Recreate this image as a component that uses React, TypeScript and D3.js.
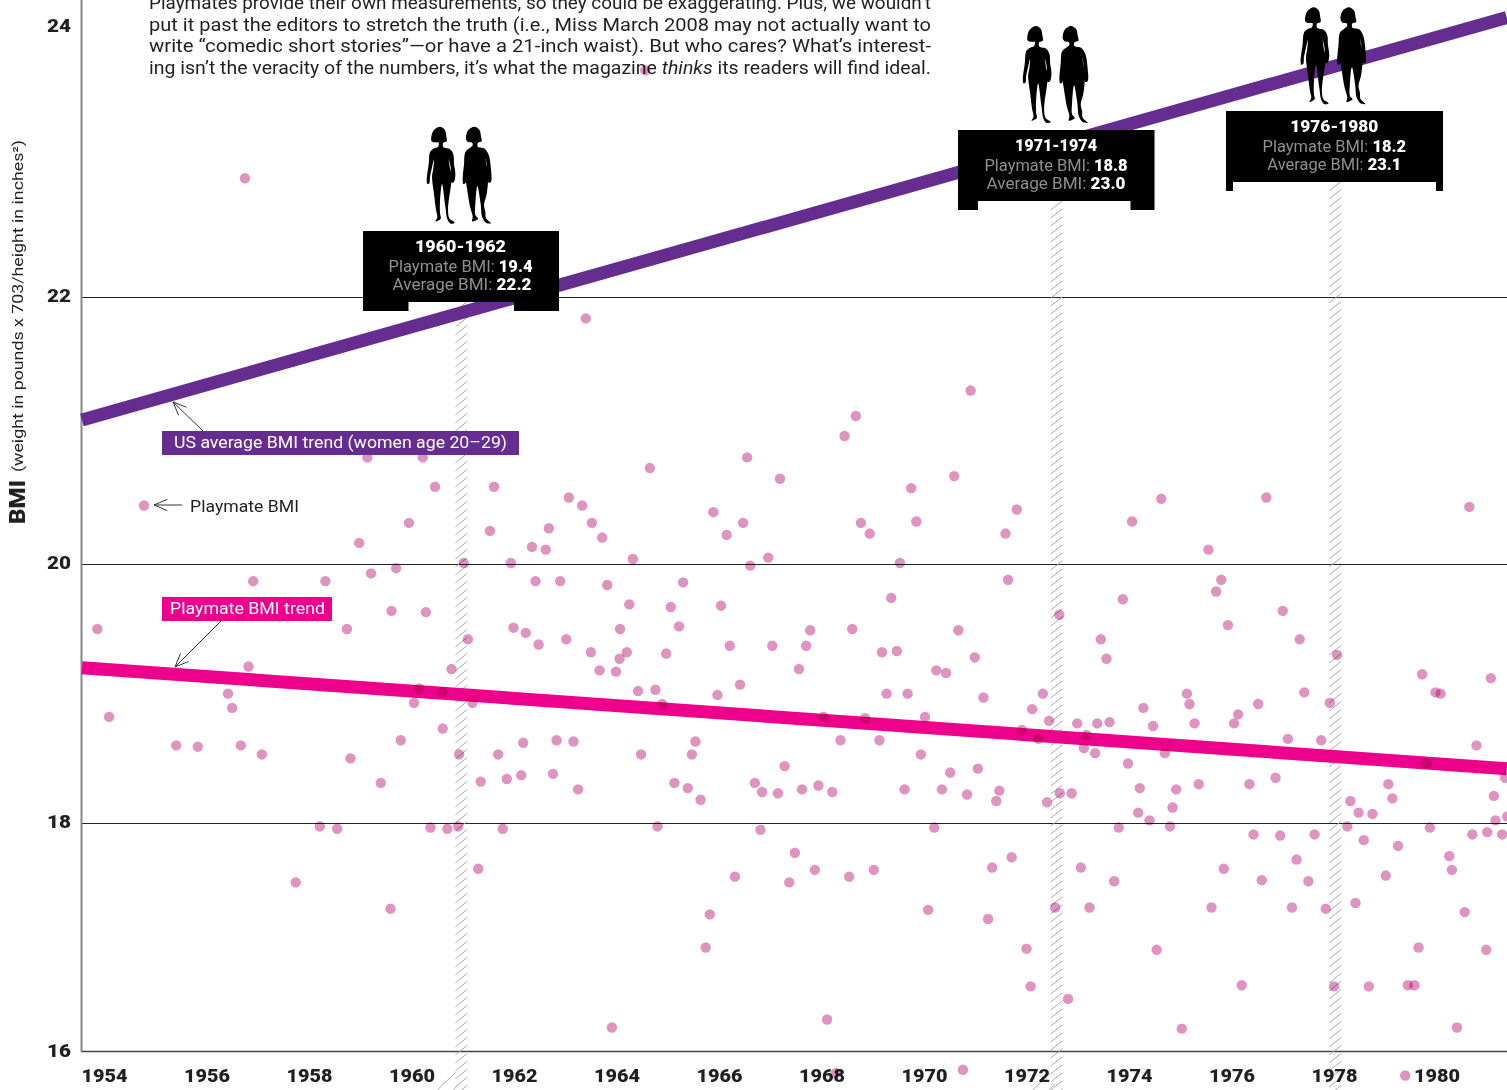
import React, { useEffect, useRef } from 'react';
import * as d3 from 'd3';

const width = 1507;
const height = 1090;

// ticks
const xTickYears = d3.range(1954, 1981, 2);
const yTickValues = [16, 18, 20, 22, 24];
const gridValues = [18, 20, 22];

// year, BMI of every playmate
const playmates: [number, number][] = [
  [1954.78, 20.44], [1959.14, 20.8], [1960.22, 20.8], [1960.46, 20.58], [1961.61, 20.58], [1959.95, 20.31],
  [1961.53, 20.25], [1962.68, 20.27], [1962.35, 20.13], [1962.62, 20.11], [1958.98, 20.16], [1961.02, 20.01],
  [1961.94, 20.01], [1959.21, 19.93], [1959.7, 19.97], [1956.91, 19.87], [1958.32, 19.87], [1962.42, 19.87],
  [1962.9, 19.87], [1959.61, 19.64], [1960.28, 19.63], [1953.87, 19.5], [1958.74, 19.5], [1961.99, 19.51],
  [1962.23, 19.47], [1962.48, 19.38], [1961.1, 19.42], [1960.78, 19.19], [1956.82, 19.21], [1956.42, 19.0],
  [1956.5, 18.89], [1960.15, 19.04], [1960.6, 19.01], [1960.05, 18.93], [1961.19, 18.93], [1954.1, 18.82],
  [1955.41, 18.6], [1955.83, 18.59], [1956.67, 18.6], [1957.08, 18.53], [1958.81, 18.5], [1959.4, 18.31],
  [1959.79, 18.64], [1960.61, 18.73], [1960.93, 18.53], [1961.35, 18.32], [1961.69, 18.53], [1961.86, 18.34],
  [1962.14, 18.37], [1962.18, 18.62], [1962.76, 18.38], [1962.83, 18.64], [1958.21, 17.97], [1958.55, 17.95],
  [1960.37, 17.96], [1960.7, 17.95], [1960.91, 17.97], [1961.78, 17.95], [1961.3, 17.6], [1957.74, 17.48],
  [1959.59, 17.25], [1956.75, 22.88], [1964.56, 23.68], [1963.4, 21.84],
  [1970.91, 21.3], [1968.67, 21.11], [1968.45, 20.96], [1966.55, 20.8], [1964.65, 20.72], [1967.19, 20.64],
  [1970.59, 20.66], [1969.75, 20.57], [1963.07, 20.5], [1963.33, 20.44], [1963.52, 20.31], [1963.72, 20.2],
  [1965.89, 20.39], [1966.47, 20.31], [1966.15, 20.22], [1968.77, 20.31], [1968.94, 20.23], [1969.85, 20.32],
  [1971.81, 20.41], [1971.59, 20.23], [1964.32, 20.04], [1966.96, 20.05], [1966.61, 19.99], [1969.53, 20.01],
  [1963.82, 19.84], [1965.3, 19.86], [1964.25, 19.69], [1965.06, 19.67], [1966.04, 19.68], [1969.36, 19.74],
  [1971.64, 19.88], [1964.07, 19.5], [1965.22, 19.52], [1967.78, 19.49], [1968.6, 19.5], [1970.67, 19.49],
  [1963.02, 19.42], [1963.5, 19.32], [1964.2, 19.32], [1964.06, 19.27], [1964.97, 19.31], [1966.21, 19.37],
  [1967.04, 19.37], [1967.7, 19.37], [1967.56, 19.19], [1969.18, 19.32], [1969.47, 19.33], [1970.24, 19.18],
  [1970.43, 19.16], [1970.99, 19.28], [1963.67, 19.18], [1963.99, 19.17], [1964.42, 19.02], [1964.76, 19.03],
  [1964.89, 18.92], [1965.97, 18.99], [1966.41, 19.07], [1969.27, 19.0], [1969.68, 19.0], [1971.16, 18.97],
  [1972.11, 18.88], [1963.16, 18.63], [1963.25, 18.26], [1964.48, 18.53], [1965.54, 18.63], [1965.47, 18.53],
  [1965.13, 18.31], [1965.39, 18.27], [1965.64, 18.18], [1964.8, 17.97], [1966.7, 18.31], [1966.84, 18.24],
  [1967.15, 18.23], [1967.28, 18.44], [1967.62, 18.26], [1967.94, 18.29], [1968.21, 18.24], [1966.81, 17.94],
  [1968.04, 18.82], [1968.85, 18.81], [1970.02, 18.82], [1968.37, 18.64], [1969.13, 18.64], [1969.94, 18.53],
  [1971.91, 18.72], [1969.62, 18.26], [1970.35, 18.26], [1970.51, 18.39], [1970.84, 18.22], [1971.05, 18.42],
  [1971.47, 18.25], [1971.41, 18.17], [1970.2, 17.96], [1967.48, 17.74], [1967.87, 17.59], [1968.54, 17.53],
  [1969.02, 17.59], [1967.37, 17.48], [1966.31, 17.53], [1965.82, 17.2], [1965.74, 16.91], [1970.08, 17.24],
  [1971.25, 17.16], [1971.33, 17.61], [1971.71, 17.7], [1972.0, 16.9], [1972.08, 16.57], [1963.91, 16.21],
  [1968.11, 16.28], [1968.28, 15.81], [1970.76, 15.84],
  [1974.63, 20.49], [1974.06, 20.32], [1976.68, 20.5], [1980.64, 20.43], [1975.55, 20.11], [1975.8, 19.88],
  [1975.7, 19.79], [1973.88, 19.73], [1975.93, 19.53], [1972.64, 19.61], [1977.0, 19.64], [1977.33, 19.42],
  [1973.45, 19.42], [1973.56, 19.27], [1978.06, 19.3], [1979.72, 19.15], [1981.06, 19.12], [1979.98, 19.01],
  [1980.08, 19.0], [1972.32, 19.0], [1972.44, 18.79], [1972.99, 18.77], [1973.38, 18.77], [1973.62, 18.78],
  [1974.28, 18.89], [1974.47, 18.75], [1975.13, 19.0], [1975.18, 18.92], [1975.28, 18.77], [1976.13, 18.84],
  [1976.05, 18.77], [1976.52, 18.92], [1977.42, 19.01], [1977.92, 18.93], [1977.1, 18.65], [1977.75, 18.64],
  [1980.78, 18.6], [1972.23, 18.65], [1973.17, 18.68], [1973.12, 18.58], [1973.34, 18.54], [1973.98, 18.46],
  [1974.7, 18.54], [1979.81, 18.46], [1974.21, 18.27], [1974.92, 18.26], [1975.36, 18.3], [1976.35, 18.3],
  [1976.86, 18.35], [1979.06, 18.3], [1979.14, 18.19], [1981.12, 18.21], [1981.34, 18.35], [1972.65, 18.23],
  [1972.88, 18.23], [1972.4, 18.16], [1978.32, 18.17], [1978.48, 18.08], [1978.75, 18.07], [1974.85, 18.12],
  [1974.18, 18.08], [1974.4, 18.02], [1981.15, 18.02], [1981.38, 18.05], [1973.8, 17.96], [1974.8, 17.97],
  [1978.26, 17.97], [1979.87, 17.96], [1976.43, 17.9], [1976.95, 17.89], [1977.62, 17.9], [1978.58, 17.85],
  [1979.25, 17.8], [1980.7, 17.9], [1980.99, 17.92], [1981.28, 17.9], [1977.27, 17.68], [1980.25, 17.71],
  [1980.3, 17.59], [1973.06, 17.61], [1975.85, 17.6], [1976.59, 17.5], [1977.5, 17.49], [1973.71, 17.49],
  [1979.01, 17.54], [1972.56, 17.26], [1973.23, 17.26], [1975.61, 17.26], [1977.18, 17.26], [1977.84, 17.25],
  [1978.42, 17.3], [1980.55, 17.22], [1979.65, 16.91], [1980.97, 16.89], [1974.54, 16.89], [1976.2, 16.58],
  [1978.0, 16.57], [1978.68, 16.57], [1979.44, 16.58], [1979.57, 16.58], [1972.81, 16.46], [1975.03, 16.2],
  [1980.4, 16.21], [1979.39, 15.79],
];

// trend lines, start and end of the plotted span
const trendYears = [1953.57, 1981.37];
const usAverageTrend = [21.08, 24.07];
const playmateTrend = [19.2, 18.42];

// highlighted periods
const periodLabels = ['1960-1962', '1971-1974', '1976-1980'];
const periodYears = [1960.97, 1972.59, 1978.02];
const periodPlaymate = [19.4, 18.8, 18.2];
const periodAverage = [22.2, 23.0, 23.1];

const paragraph = [
  'Playmates provide their own measurements, so they could be exaggerating. Plus, we wouldn’t',
  'put it past the editors to stretch the truth (i.e., Miss March 2008 may not actually want to',
  'write “comedic short stories”—or have a 21-inch waist). But who cares? What’s interest-',
];

const FONT = 'Roboto, sans-serif';
const PURPLE = '#652d90';
const PINK = '#ec008c';
const DOT = '#df93c1';
const INK = '#231f20';

// the y scale of the original is not even between gridlines
const xScale = d3.scaleLinear().domain([1954, 1980]).range([104, 1436.5]);
const yScale = d3.scaleLinear().domain(yTickValues).range([1051.5, 823, 564.3, 297, 27]);

// layout of the black callouts
const boxLayout = [
  { x: 363, y: 231, w: 196, notchL: 45.5, notchR: 151, cx: 460.5, titleW: 91, l2W: 144, l3W: 139, figA: 426.7, figB: 462.7, figY: 126.7, cx3: 462 },
  { x: 958, y: 130, w: 196.5, notchL: 20, notchR: 172.5, cx: 1056, titleW: 82, l2W: 143, l3W: 139, figA: 1022.8, figB: 1059.4, figY: 26, cx3: 1056 },
  { x: 1226, y: 111, w: 217, notchL: 7, notchR: 210, cx: 1334.3, titleW: 88, l2W: 143.5, l3W: 134, figA: 1300.6, figB: 1337.2, figY: 7.3, cx3: 1334.3 },
];

// silhouette outlines, in 3x units
const slimOutline: [number, number][] = [
  [40, 0], [54, 9], [59, 30], [60, 44], [50, 48], [48, 56], [50, 62], [70, 68], [80, 84], [82, 112], [86, 142], [82, 165], [76, 168],
  [73, 150], [72, 122], [66, 98], [70, 125], [75, 150], [72, 182], [66, 222], [64, 250], [68, 275], [84, 288], [72, 291], [62, 278],
  [56, 240], [46, 172], [40, 222], [40, 260], [42, 276], [26, 284], [32, 272], [28, 250], [22, 202], [16, 150], [20, 125], [22, 98],
  [16, 122], [10, 150], [8, 170], [2, 172], [0, 160], [6, 112], [10, 76], [20, 66], [34, 60], [36, 48], [22, 47], [14, 42], [20, 12],
];
const fullOutline: [number, number][] = [
  [35, 0], [50, 9], [55, 30], [57, 44], [46, 48], [44, 56], [46, 61], [66, 66], [78, 85], [84, 120], [85, 165], [78, 168], [74, 150],
  [72, 112], [68, 94], [76, 150], [72, 202], [64, 235], [68, 255], [70, 275], [85, 290], [70, 288], [58, 270], [54, 232],
  [44, 178], [38, 232], [38, 265], [46, 276], [28, 284], [30, 270], [22, 240], [14, 192], [8, 142], [16, 94], [12, 130],
  [8, 170], [2, 172], [0, 160], [4, 112], [8, 76], [24, 62], [30, 56], [28, 48], [16, 46], [10, 36], [16, 11],
];
const outlinePath = d3.line().curve(d3.curveCatmullRomClosed.alpha(0.5));

const trendLine = d3
  .line<[number, number]>()
  .x((d) => xScale(d[0]))
  .y((d) => yScale(d[1]));

const Arrow = ({ x1, y1, x2, y2 }: { x1: number; y1: number; x2: number; y2: number }) => {
  const a = Math.atan2(y2 - y1, x2 - x1);
  const len = 14.5;
  const spread = 0.4;
  const bx = (s: number) => x2 - len * Math.cos(a + s);
  const by = (s: number) => y2 - len * Math.sin(a + s);
  return (
    <path
      d={`M${x1},${y1}L${x2},${y2}M${bx(spread)},${by(spread)}L${x2},${y2}L${bx(-spread)},${by(-spread)}`}
      fill="none"
      stroke="#333"
      strokeWidth={1}
    />
  );
};

const Figure = ({ x, y, outline }: { x: number; y: number; outline: [number, number][] }) => (
  <path transform={`translate(${x},${y}) scale(${1 / 3})`} d={outlinePath(outline) as string} fill="#000" />
);

export default function App() {
  const xAxisRef = useRef<SVGGElement>(null);
  const yAxisRef = useRef<SVGGElement>(null);

  useEffect(() => {
    const xAxis = d3.axisBottom(xScale).tickValues(xTickYears).tickSize(0).tickFormat(d3.format('d'));
    const gx = d3.select(xAxisRef.current).call(xAxis as any);
    gx.select('.domain').remove();
    gx.selectAll('text')
      .attr('y', 30)
      .attr('dy', 0)
      .attr('fill', INK)
      .attr('font-family', FONT)
      .attr('font-size', 17.5)
      .attr('font-weight', 900)
      .attr('textLength', 46)
      .attr('lengthAdjust', 'spacingAndGlyphs');

    const yAxis = d3.axisLeft(yScale).tickValues(yTickValues).tickSize(0).tickPadding(10).tickFormat(d3.format('d'));
    const gy = d3.select(yAxisRef.current).call(yAxis as any);
    gy.select('.domain').remove();
    gy.selectAll('text')
      .attr('dy', '0.26em')
      .attr('fill', INK)
      .attr('font-family', FONT)
      .attr('font-size', 17.5)
      .attr('font-weight', 900)
      .attr('textLength', 24)
      .attr('lengthAdjust', 'spacingAndGlyphs');
  }, []);

  const trendPoints = (vals: number[]) => trendYears.map((y, i) => [y, vals[i]] as [number, number]);

  return (
    <svg
      width={width}
      height={height}
      style={{ position: 'absolute', left: 0, top: 0, display: 'block', background: '#fff' }}
      fontFamily={FONT}
    >
      <rect width={width} height={height} fill="#fff" />

      {/* intro text */}
      <g fill={INK} fontSize={17.5}>
        {paragraph.map((line, i) => (
          <text key={i} x={149} y={9 + i * 21.6} textLength={782} lengthAdjust="spacingAndGlyphs">
            {line}
          </text>
        ))}
        <text x={149} y={74} textLength={782} lengthAdjust="spacingAndGlyphs">
          ing isn’t the veracity of the numbers, it’s what the magazine <tspan fontStyle="italic">thinks</tspan> its readers will find ideal.
        </text>
      </g>

      {/* grid */}
      {gridValues.map((v) => (
        <line key={v} x1={82} x2={width} y1={yScale(v)} y2={yScale(v)} stroke="#222" strokeWidth={1} shapeRendering="crispEdges" />
      ))}
      <line x1={81} x2={width} y1={yScale(16)} y2={yScale(16)} stroke="#444" strokeWidth={1.5} />
      <line x1={81.5} x2={81.5} y1={0} y2={yScale(16)} stroke="#888" strokeWidth={2} />

      {/* hatched period bands */}
      {periodYears.map((yr, i) => {
        const cx = xScale(yr);
        const top = boxLayout[i].y + 71;
        const ys = d3.range(top + 9, height + 9, 8);
        return (
          <g key={yr} stroke="#aaa" strokeWidth={1}>
            <clipPath id={`band${i}`}>
              <rect x={cx - 6} y={top} width={12} height={height - top} />
            </clipPath>
            <g clipPath={`url(#band${i})`}>
              {ys.map((y) => (
                <line key={y} x1={cx - 6} x2={cx + 6} y1={y} y2={y - 9.5} />
              ))}
            </g>
            {i < 2 && (
              <g>
                <line x1={cx - 24} x2={cx - 6} y1={1090} y2={1073} />
                <line x1={cx - 8} x2={cx - 2} y1={1090} y2={1084} />
              </g>
            )}
          </g>
        );
      })}

      {/* trends */}
      <path d={trendLine(trendPoints(usAverageTrend)) as string} fill="none" stroke={PURPLE} strokeWidth={13} />
      <path d={trendLine(trendPoints(playmateTrend)) as string} fill="none" stroke={PINK} strokeWidth={13} />

      {/* axes */}
      <g ref={xAxisRef} transform={`translate(0,${yScale(16)})`} />
      <g ref={yAxisRef} transform="translate(81,0)" />

      {/* playmates */}
      {playmates.map(([yr, bmi], i) => (
        <circle key={i} cx={xScale(yr)} cy={yScale(bmi)} r={5.2} fill={DOT} style={{ mixBlendMode: 'multiply' }} />
      ))}

      {/* y title */}
      <g transform="translate(25,524) rotate(-90)" fill={INK}>
        <text x={0} y={0} fontSize={22} fontWeight={900} textLength={44} lengthAdjust="spacingAndGlyphs">
          BMI
        </text>
        <text x={52} y={-2} fontSize={14.5} textLength={332} lengthAdjust="spacingAndGlyphs">
          (weight in pounds x 703/height in inches²)
        </text>
      </g>

      {/* keys */}
      <Arrow x1={203} y1={431} x2={173} y2={402} />
      <Arrow x1={221} y1={621} x2={175} y2={667} />
      <Arrow x1={182} y1={505} x2={154} y2={505} />
      <rect x={162} y={431} width={357} height={24} fill={PURPLE} />
      <text x={174} y={448} fill="#fff" fontSize={17} textLength={333} lengthAdjust="spacingAndGlyphs">
        US average BMI trend (women age 20–29)
      </text>
      <rect x={162} y={597} width={170} height={24} fill={PINK} />
      <text x={170} y={614} fill="#fff" fontSize={17} textLength={155} lengthAdjust="spacingAndGlyphs">
        Playmate BMI trend
      </text>
      <text x={190} y={512} fill={INK} fontSize={17} textLength={109} lengthAdjust="spacingAndGlyphs">
        Playmate BMI
      </text>

      {/* callouts */}
      {boxLayout.map((b, i) => {
        const bottom = b.y + 80;
        const notchTop = b.y + 71;
        return (
          <g key={periodLabels[i]}>
            <Figure x={b.figA} y={b.figY} outline={slimOutline} />
            <Figure x={b.figB} y={b.figY} outline={fullOutline} />
            <path
              d={`M${b.x},${b.y}h${b.w}V${bottom}H${b.x + b.notchR}V${notchTop}H${b.x + b.notchL}V${bottom}H${b.x}Z`}
              fill="#000"
            />
            <text x={b.cx} y={b.y + 21} textAnchor="middle" fill="#fff" fontSize={17} fontWeight={900} textLength={b.titleW} lengthAdjust="spacingAndGlyphs">
              {periodLabels[i]}
            </text>
            <text x={b.cx} y={b.y + 40.6} textAnchor="middle" fontSize={16.5} fill="#8f8f8f" textLength={b.l2W} lengthAdjust="spacingAndGlyphs">
              Playmate BMI: <tspan fill="#fff" fontWeight={900}>{periodPlaymate[i].toFixed(1)}</tspan>
            </text>
            <text x={b.cx3} y={b.y + 59} textAnchor="middle" fontSize={16.5} fill="#8f8f8f" textLength={b.l3W} lengthAdjust="spacingAndGlyphs">
              Average BMI: <tspan fill="#fff" fontWeight={900}>{periodAverage[i].toFixed(1)}</tspan>
            </text>
          </g>
        );
      })}
    </svg>
  );
}
